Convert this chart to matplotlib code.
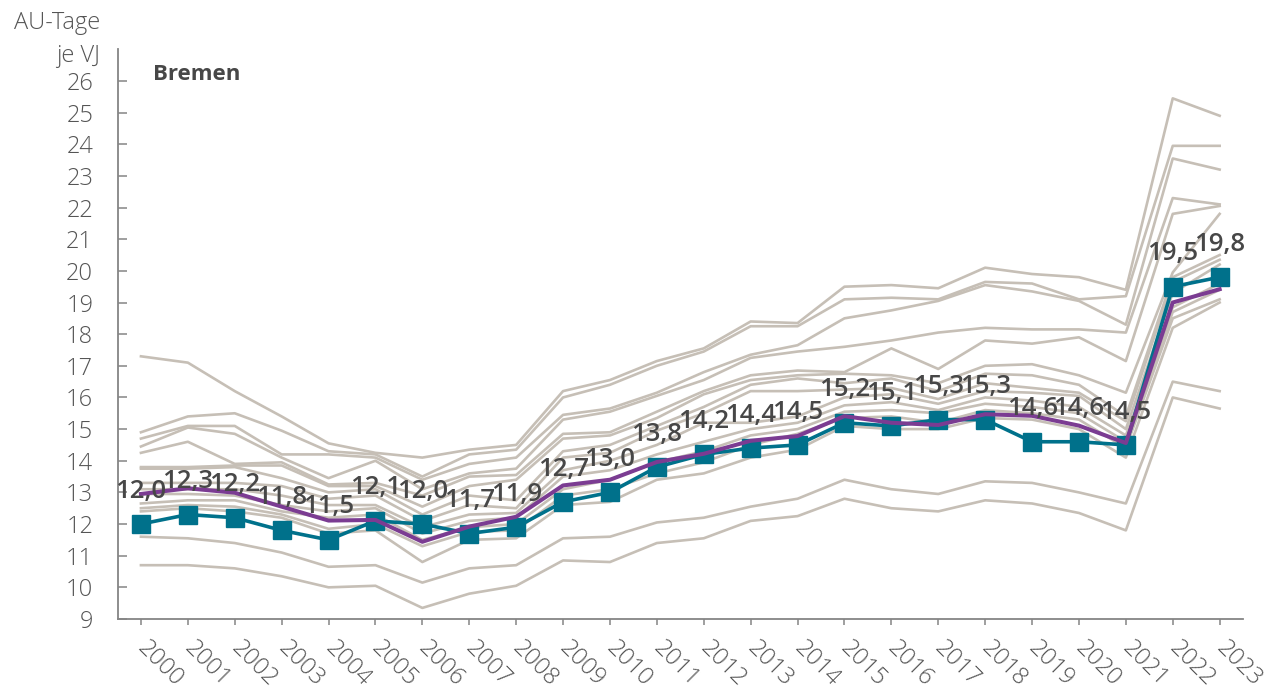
import matplotlib
matplotlib.use('Agg')
import matplotlib.pyplot as plt

plt.rcParams['font.family'] = ['Open Sans', 'DejaVu Sans']

# --- data (AU-Tage je VJ) ---
years = list(range(2000, 2024))

bremen = [12.0, 12.3, 12.2, 11.8, 11.5, 12.1, 12.0, 11.7, 11.9, 12.7, 13.0, 13.8,
          14.2, 14.4, 14.5, 15.2, 15.1, 15.3, 15.3, 14.6, 14.6, 14.5, 19.5, 19.8]

bund = [12.95, 13.13, 12.99, 12.55, 12.11, 12.13, 11.44, 11.92, 12.23, 13.22, 13.4, 13.96,
        14.22, 14.63, 14.78, 15.41, 15.2, 15.13, 15.47, 15.42, 15.11, 14.56, 19.0, 19.42]

# the other federal states (grey background lines)
other_states = [
    [17.3, 17.1, 16.2, 15.4, 14.55, 14.25, 14.1, 14.35, 14.5, 16.2, 16.55, 17.15, 17.55, 18.4, 18.35, 19.5, 19.55, 19.45, 20.1, 19.9, 19.8, 19.4, 25.45, 24.9],
    [14.9, 15.4, 15.5, 14.95, 14.3, 14.2, 13.5, 14.2, 14.35, 16.0, 16.4, 17.0, 17.45, 18.25, 18.25, 19.1, 19.15, 19.1, 19.65, 19.6, 19.1, 19.2, 23.95, 23.95],
    [14.7, 15.1, 15.1, 14.2, 14.2, 14.1, 13.4, 13.9, 14.1, 15.45, 15.65, 16.15, 16.8, 17.35, 17.65, 18.5, 18.75, 19.05, 19.55, 19.35, 19.05, 18.3, 23.55, 23.2],
    [14.45, 15.05, 14.85, 14.1, 13.45, 14.0, 13.1, 13.6, 13.75, 15.3, 15.55, 16.05, 16.55, 17.25, 17.45, 17.6, 17.8, 18.05, 18.2, 18.15, 18.15, 18.05, 22.3, 22.1],
    [14.25, 14.6, 13.9, 13.95, 13.25, 13.3, 12.9, 13.5, 13.55, 14.85, 14.9, 15.55, 16.2, 16.7, 16.85, 16.8, 17.55, 16.9, 17.8, 17.7, 17.9, 17.15, 21.8, 22.05],
    [13.8, 13.8, 13.85, 13.85, 13.2, 13.2, 12.55, 13.2, 13.4, 14.7, 14.8, 15.35, 16.1, 16.55, 16.7, 16.75, 16.7, 16.45, 17.0, 17.05, 16.7, 16.15, 19.95, 21.8],
    [13.75, 13.75, 13.8, 13.45, 13.0, 13.1, 12.3, 12.9, 12.75, 14.3, 14.5, 15.1, 15.7, 16.4, 16.6, 16.45, 16.6, 16.2, 16.75, 16.7, 16.4, 15.4, 19.8, 20.5],
    [13.3, 13.3, 13.3, 13.2, 12.8, 12.9, 12.1, 12.6, 12.5, 14.1, 14.25, 14.95, 15.5, 16.2, 16.2, 16.25, 16.3, 15.95, 16.45, 16.3, 16.15, 15.25, 19.65, 20.35],
    [13.1, 13.1, 13.1, 12.9, 12.6, 12.6, 11.9, 12.3, 12.35, 13.7, 14.0, 14.5, 15.2, 15.2, 15.4, 16.0, 16.1, 15.8, 16.2, 16.15, 16.05, 15.0, 19.3, 20.2],
    [12.95, 12.95, 12.9, 12.6, 12.4, 12.5, 11.7, 12.1, 12.2, 13.5, 13.7, 14.2, 14.6, 15.0, 15.2, 15.75, 15.85, 15.6, 16.0, 15.9, 15.7, 14.8, 18.85, 19.6],
    [12.65, 12.75, 12.75, 12.4, 12.2, 12.3, 11.5, 11.9, 12.0, 13.1, 13.4, 13.95, 14.3, 14.8, 15.0, 15.55, 15.6, 15.5, 15.8, 15.7, 15.5, 14.6, 18.7, 19.4],
    [12.5, 12.6, 12.55, 12.3, 11.85, 12.0, 11.3, 11.75, 11.8, 12.9, 13.1, 13.6, 13.95, 14.5, 14.85, 15.35, 15.4, 15.2, 15.6, 15.5, 15.3, 14.4, 18.5, 19.1],
    [12.4, 12.5, 12.4, 12.2, 11.7, 11.8, 10.8, 11.5, 11.55, 12.6, 12.7, 13.4, 13.6, 14.1, 14.35, 15.1, 15.0, 15.0, 15.35, 15.3, 15.0, 14.1, 18.2, 19.0],
    [11.6, 11.55, 11.4, 11.1, 10.65, 10.7, 10.15, 10.6, 10.7, 11.55, 11.6, 12.05, 12.2, 12.55, 12.8, 13.4, 13.1, 12.95, 13.35, 13.3, 13.0, 12.65, 16.5, 16.2],
    [10.7, 10.7, 10.6, 10.35, 10.0, 10.05, 9.35, 9.8, 10.05, 10.85, 10.8, 11.4, 11.55, 12.1, 12.25, 12.8, 12.5, 12.4, 12.75, 12.65, 12.35, 11.8, 16.0, 15.65],
]

y_ticks = list(range(9, 27))

# --- colours ---
GREY = '#C6BFB6'
TEAL = '#00718B'
PURPLE = '#7B3C92'
TEXT = '#474747'
AXIS = '#858585'
TICKTXT = '#555555'

fig = plt.figure(figsize=(12.73, 6.93), dpi=100)
ax = fig.add_axes([117.5 / 1273, 74 / 693, 1125.6 / 1273, 569.7 / 693])

for series in other_states:
    ax.plot(years, series, color=GREY, linewidth=1.9, zorder=1)

ax.plot(years, bremen, color=TEAL, linewidth=2.6, marker='s', markersize=12.5,
        zorder=3)
ax.plot(years, bund, color=PURPLE, linewidth=2.9, zorder=4)

for x, v in zip(years, bremen):
    ax.annotate(f"{v:.1f}".replace('.', ','), (x, v), xytext=(0, 19),
                textcoords='offset points', ha='center', va='baseline',
                fontsize=18.5, fontweight='semibold', color=TEXT, zorder=5)

ax.set_xlim(1999.5, 2023.5)
ax.set_ylim(9, 27)
ax.set_yticks(y_ticks)
ax.set_xticks(years)
ax.set_xticklabels([str(y) for y in years], rotation=-45, ha='left', va='center',
                   rotation_mode='anchor')

for s in ['top', 'right']:
    ax.spines[s].set_visible(False)
for s in ['left', 'bottom']:
    ax.spines[s].set_color(AXIS)
    ax.spines[s].set_linewidth(1.3)

ax.tick_params(axis='y', direction='in', length=6.5, width=1.1, color=AXIS,
               labelsize=17, labelcolor=TICKTXT, pad=17.5)
ax.tick_params(axis='x', direction='out', length=4.5, width=1.1, color=AXIS,
               labelsize=17, labelcolor=TICKTXT, pad=14)
for lbl in ax.get_yticklabels() + ax.get_xticklabels():
    lbl.set_fontweight('light')

ax.text((153 - 117.5) / 1125.6, (619 - 80) / 569.7, 'Bremen', transform=ax.transAxes,
        ha='left', va='baseline', fontsize=16, fontweight='bold', color=TEXT)

fig.text(100 / 1273, 1 - 29 / 693, 'AU-Tage', ha='right', va='baseline',
         fontsize=17, color=TICKTXT, fontweight='light')
fig.text(100 / 1273, 1 - 62 / 693, 'je VJ', ha='right', va='baseline',
         fontsize=17, color=TICKTXT, fontweight='light')

fig.savefig('out.png', dpi=100)
